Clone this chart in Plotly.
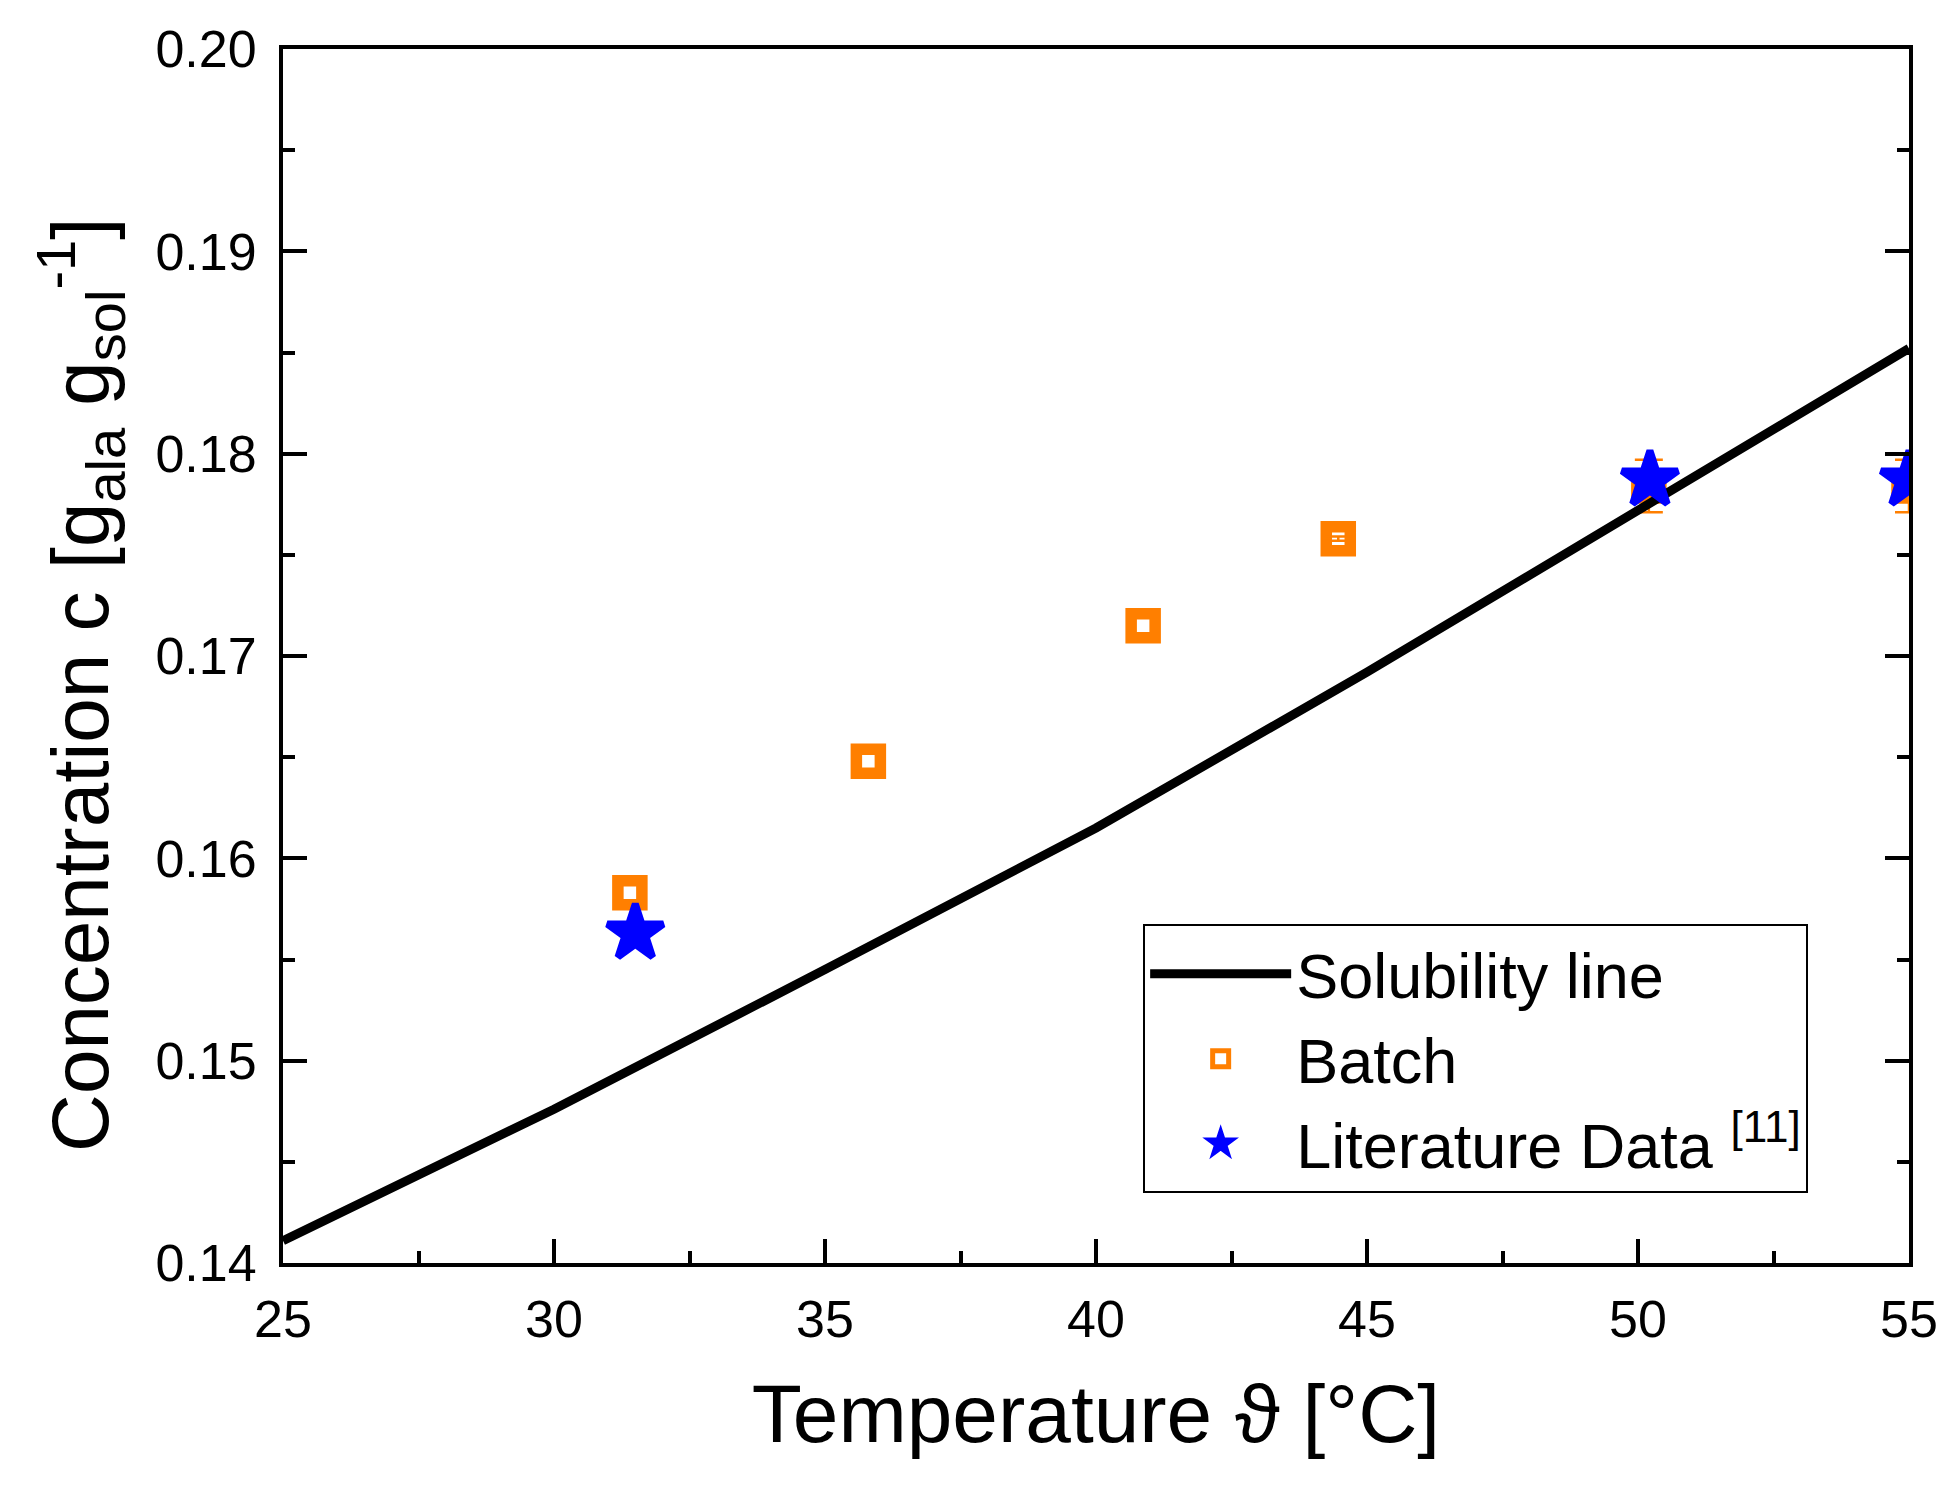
import plotly.graph_objects as go

# Solubility line
sol_T = [25, 30, 35, 40, 45, 50, 55]
sol_c = [0.1411, 0.1476, 0.1545, 0.1615, 0.1692, 0.1772, 0.1852]

# Batch experiments
batch_T = [31.4, 35.8, 40.87, 44.47, 50.2, 55.0]
batch_c = [0.1583, 0.1648, 0.1715, 0.1758, 0.1784, 0.1784]

# Batch error bars (only points with visible error bars)
batch_err_T = [44.47, 50.2, 55.0]
batch_err_c = [0.1758, 0.1784, 0.1784]
batch_err = [0.0001, 0.0013, 0.0013]

# Literature data
lit_T = [31.5, 50.22, 55.0]
lit_c = [0.1563, 0.1787, 0.1787]

FONT = "Liberation Sans, Arial, sans-serif"
ORANGE = "#FF7F00"
BLUE = "#0000FF"

fig = go.Figure()

fig.add_trace(go.Scatter(
    x=batch_T, y=batch_c, mode="markers", name="Batch",
    legendrank=2,
    marker=dict(symbol="square-open", size=24, color=ORANGE,
                line=dict(width=11.5, color=ORANGE)),
))

fig.add_trace(go.Scatter(
    x=batch_err_T, y=batch_err_c, mode="markers", name="Batch error",
    showlegend=False, hoverinfo="skip",
    marker=dict(size=1, opacity=0),
    error_y=dict(type="data", array=batch_err, visible=True,
                 color=ORANGE, thickness=2.5, width=14),
))

fig.add_trace(go.Scatter(
    x=sol_T, y=sol_c, mode="lines", name="Solubility line",
    legendrank=1,
    line=dict(color="black", width=9),
))

fig.add_trace(go.Scatter(
    x=lit_T, y=lit_c, mode="markers", name="Literature Data <sup>[11]</sup>",
    legendrank=3,
    marker=dict(symbol="star", size=42, color=BLUE,
                line=dict(width=7, color=BLUE)),
))

fig.update_layout(
    width=1942, height=1469,
    margin=dict(l=275, r=31, t=41, b=214),
    paper_bgcolor="white", plot_bgcolor="white",
    font=dict(family=FONT, color="black", size=52),
    showlegend=True,
    legend=dict(
        x=0.529, y=0.279, xanchor="left", yanchor="top",
        bgcolor="white", bordercolor="black", borderwidth=2,
        font=dict(family=FONT, size=63, color="black"),
        itemwidth=141,
    ),
    annotations=[dict(
        text="Concentration c [g<sub>ala</sub> g<sub>sol</sub><sup>-1</sup>]",
        xref="paper", yref="paper", x=-0.125, y=0.476,
        xanchor="center", yanchor="middle", textangle=-90, showarrow=False,
        font=dict(family=FONT, size=80, color="black"),
    )],
)

fig.update_xaxes(
    range=[25, 55], dtick=5, tick0=25,
    showline=True, linecolor="black", linewidth=4, mirror=True,
    ticks="inside", ticklen=24, tickwidth=4, tickcolor="black",
    minor=dict(ticks="inside", dtick=2.5, ticklen=12, tickwidth=4, tickcolor="black"),
    showgrid=False, zeroline=False,
    tickfont=dict(family=FONT, size=52, color="black"),
    ticklabelstandoff=8,
    title=dict(text="Temperature ϑ [°C]", font=dict(family=FONT, size=82, color="black"),
               standoff=38),
)

fig.update_yaxes(
    range=[0.14, 0.20], dtick=0.01, tick0=0.14, tickformat=".2f",
    showline=True, linecolor="black", linewidth=4, mirror="ticks",
    ticks="inside", ticklen=24, tickwidth=4, tickcolor="black",
    minor=dict(ticks="inside", dtick=0.005, ticklen=12, tickwidth=4, tickcolor="black"),
    showgrid=False, zeroline=False,
    tickfont=dict(family=FONT, size=52, color="black"),
    ticklabelstandoff=12,
)

fig.write_html("out.html")
